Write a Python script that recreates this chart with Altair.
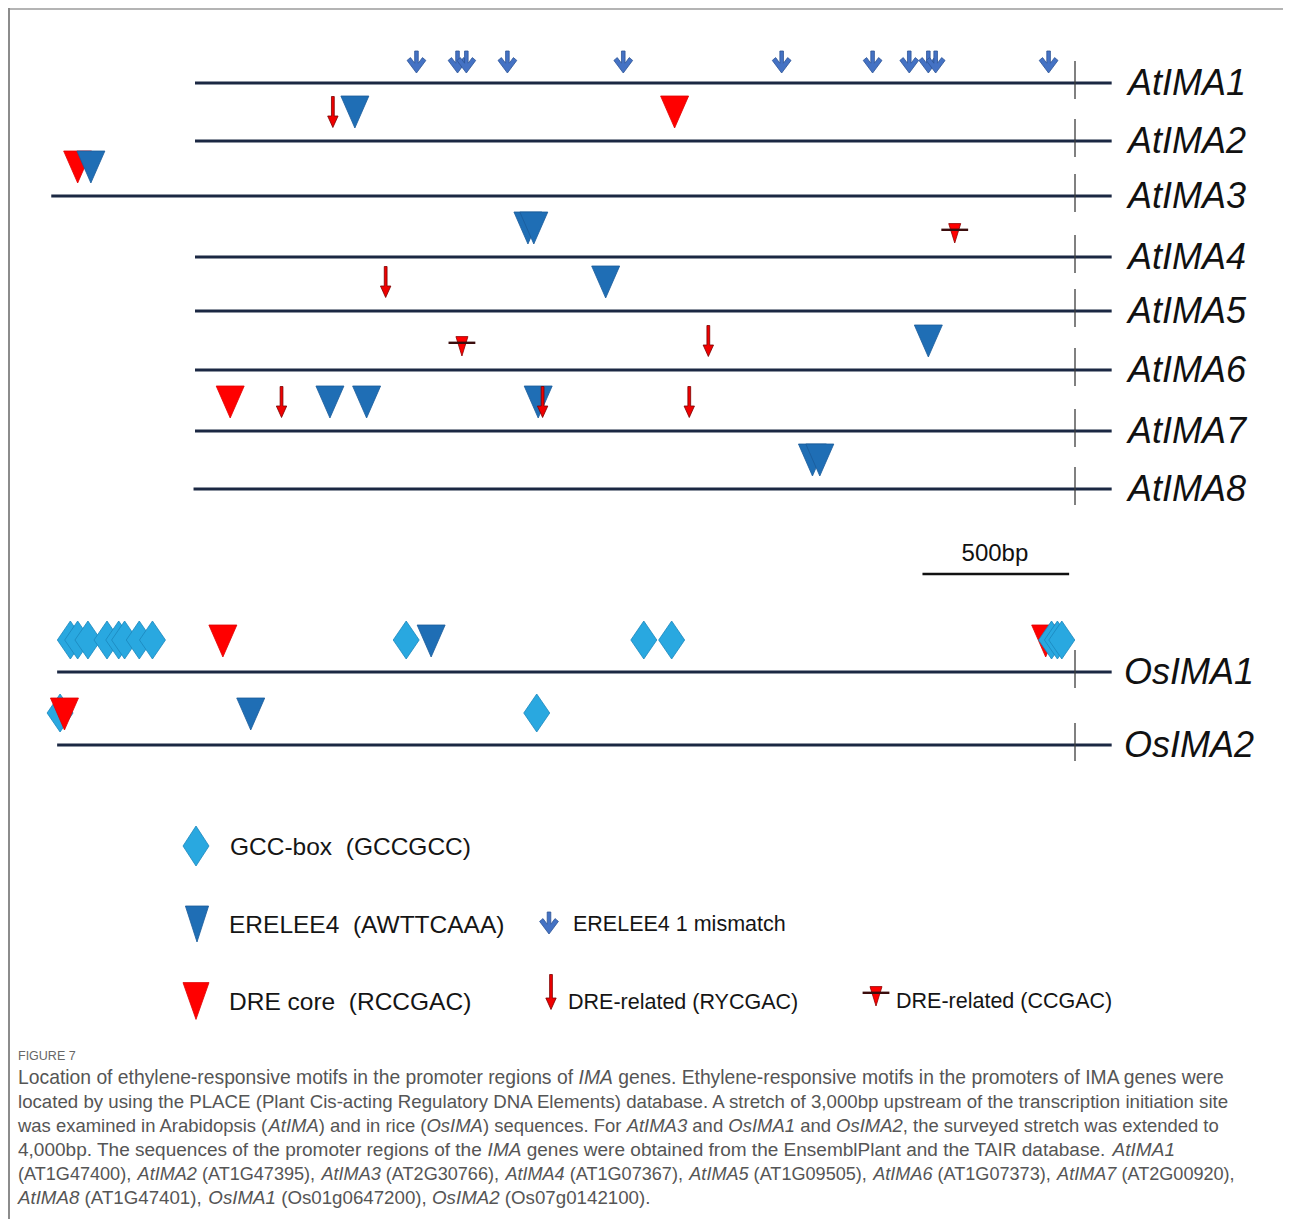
import altair as alt
import pandas as pd

# ---------------- data ----------------
GENES = ["AtIMA1", "AtIMA2", "AtIMA3", "AtIMA4", "AtIMA5", "AtIMA6", "AtIMA7", "AtIMA8", "OsIMA1", "OsIMA2"]
LINE_START_BP = [-3000, -3000, -3490, -3000, -3000, -3000, -3000, -3005, -3470, -3470]
LINE_END_BP = 125

# motif hits per promoter: (motif type, position in bp relative to TSS), drawn in this order
AtIMA1 = [("ERE1", -2245), ("ERE1", -2105), ("ERE1", -2075), ("ERE1", -1935), ("ERE1", -1540),
          ("ERE1", -1000), ("ERE1", -690), ("ERE1", -565), ("ERE1", -500), ("ERE1", -475), ("ERE1", -90)]
AtIMA2 = [("DRER", -2530), ("ERE", -2455), ("DRE", -1365)]
AtIMA3 = [("DRE", -3400), ("ERE", -3355)]
AtIMA4 = [("ERE", -1865), ("ERE", -1845), ("DREC", -410)]
AtIMA5 = [("DRER", -2350), ("ERE", -1600)]
AtIMA6 = [("DREC", -2090), ("DRER", -1250), ("ERE", -500)]
AtIMA7 = [("DRE", -2880), ("DRER", -2705), ("ERE", -2540), ("ERE", -2415), ("ERE", -1830),
          ("DRER", -1815), ("DRER", -1315)]
AtIMA8 = [("ERE", -895), ("ERE", -870)]
OsIMA1 = [("GCC", -3425), ("GCC", -3400), ("GCC", -3365), ("GCC", -3300), ("GCC", -3260),
          ("GCC", -3240), ("GCC", -3190), ("GCC", -3145), ("DRE", -2905), ("GCC", -2280),
          ("ERE", -2195), ("GCC", -1470), ("GCC", -1375), ("DRE", -100), ("GCC", -80),
          ("GCC", -60), ("GCC", -45)]
OsIMA2 = [("GCC", -3460), ("DRE", -3445), ("ERE", -2810), ("GCC", -1835)]
MOTIFS = [AtIMA1, AtIMA2, AtIMA3, AtIMA4, AtIMA5, AtIMA6, AtIMA7, AtIMA8, OsIMA1, OsIMA2]

MOTIF_TYPES = ["GCC", "ERE", "ERE1", "DRE", "DRER", "DREC"]
MOTIF_LABELS = ["GCC-box\u00a0 (GCCGCC)", "ERELEE4\u00a0 (AWTTCAAA)", "ERELEE4 1 mismatch",
                "DRE core\u00a0 (RCCGAC)", "DRE-related (RYCGAC)", "DRE-related (CCGAC)"]

SCALE_BAR_BP = 500
SCALE_BAR_LABEL = "500bp"

CAPTION_TITLE = "FIGURE 7"
CAPTION_LINES = [
    "Location of ethylene-responsive motifs in the promoter regions of *IMA* genes. Ethylene-responsive motifs in the promoters of IMA genes were",
    "located by using the PLACE (Plant Cis-acting Regulatory DNA Elements) database. A stretch of 3,000bp upstream of the transcription initiation site",
    "was examined in Arabidopsis (*AtIMA*) and in rice (*OsIMA*) sequences. For *AtIMA3* and *OsIMA1* and *OsIMA2*, the surveyed stretch was extended to",
    "4,000bp. The sequences of the promoter regions of the *IMA* genes were obtained from the EnsemblPlant and the TAIR database. *AtIMA1*",
    "(AT1G47400), *AtIMA2* (AT1G47395), *AtIMA3* (AT2G30766), *AtIMA4* (AT1G07367), *AtIMA5* (AT1G09505), *AtIMA6* (AT1G07373), *AtIMA7* (AT2G00920),",
    "*AtIMA8* (AT1G47401), *OsIMA1* (Os01g0647200), *OsIMA2* (Os07g0142100).",
]

# ---------------- layout & style ----------------
W, H = 1275, 1211
M = 8  # page margin: image px -> chart px
PX_PER_BP = 880 / 3000
TSS_X = 1075 - M
BP_LEFT = -TSS_X / PX_PER_BP
BP_RIGHT = BP_LEFT + W / PX_PER_BP
ROW_Y = [y - M for y in [83, 141, 196, 257, 311, 370, 431, 489, 672, 745]]
LABEL_X = [1128 - M] * 8 + [1124 - M] * 2
OFFSET = {"GCC": 32, "ERE": 29, "ERE1": 21, "DRE": 29, "DRER": 29, "DREC": 24}

FONT = "Liberation Sans"
LINE_COLOR = "#1b2843"
FILL = {"GCC": "#29a8e0", "ERE": "#1f6eb5", "ERE1": "#4472c4", "DRE": "#ff0000", "DRER": "#f00000", "DREC": "#ff0000"}
STROKE = {"GCC": "#1b86bd", "ERE": "#1a5c9a", "ERE1": "#2f5597", "DRE": "#e00000", "DRER": "#7a0000", "DREC": "#8b0000"}
SYM_SIZE = 1600  # 40px box; paths below in -1..1 units (1 unit = 20px)
PATH = {
    "GCC": "M0,-0.95L0.65,0L0,0.95L-0.65,0Z",
    "ERE": "M-0.7,-0.8L0.7,-0.8L0,0.8Z",
    "ERE1": "M-0.09,-0.55L0.09,-0.55L0.09,0.06L0.3,-0.22L0.47,-0.08L0,0.55L-0.47,-0.08L-0.3,-0.22L-0.09,0.06Z",
    "DRE": "M-0.7,-0.8L0.7,-0.8L0,0.8Z",
    "DRER": "M-0.07,-0.775L0.07,-0.775L0.07,0.2L0.26,0.2L0,0.775L-0.26,0.2L-0.07,0.2Z",
    "DREC": "M-0.3,-0.47L0.3,-0.47L0,0.5Z",
}
LEG_PATH = {
    "GCC": "M0,-1L0.65,0L0,1L-0.65,0Z",
    "ERE": "M-0.58,-0.9L0.58,-0.9L0,0.9Z",
    "ERE1": PATH["ERE1"],
    "DRE": "M-0.65,-0.92L0.65,-0.92L0,0.92Z",
    "DRER": "M-0.07,-0.875L0.07,-0.875L0.07,0.3L0.26,0.3L0,0.875L-0.26,0.3L-0.07,0.3Z",
    "DREC": PATH["DREC"],
}
BAR_PATH = "M-0.67,-0.22L0.67,-0.22L0.67,-0.1L-0.67,-0.1Z"
LEG_SYM = {"GCC": (196, 846), "ERE": (197, 924), "ERE1": (549, 923), "DRE": (196, 1001), "DRER": (551, 992), "DREC": (876, 996)}
LEG_TXT = {"GCC": (230, 855, 24.5), "ERE": (229, 933, 24.5), "ERE1": (573, 931, 21.5),
           "DRE": (229, 1010, 24.5), "DRER": (568, 1009, 21.5), "DREC": (896, 1008, 21.5)}
# right edge of each caption line in the reference (None: use the average size)
CAP_RIGHTS = [1225, 1232, 1219, 1175, 1236, None]

# ---------------- scales ----------------
def XB(f):
    return alt.X(f"{f}:Q", scale=alt.Scale(domain=[BP_LEFT, BP_RIGHT], nice=False, zero=False), axis=None)

def XP(f):
    return alt.X(f"{f}:Q", scale=alt.Scale(domain=[0, W], nice=False, zero=False), axis=None)

def Y(f):
    return alt.Y(f"{f}:Q", scale=alt.Scale(domain=[0, H], reverse=True, nice=False, zero=False), axis=None)

def Y2(f):
    return alt.Y2(f"{f}:Q")

# ---------------- tables ----------------
rows_df = pd.DataFrame({"gene": GENES, "start": LINE_START_BP, "end": LINE_END_BP, "y": ROW_Y,
                        "tss": 0, "t1": [y - 22 for y in ROW_Y], "t2": [y + 16 for y in ROW_Y],
                        "lx": LABEL_X, "ly": [y + 12 for y in ROW_Y]})

mot = []
for g, ry, hits in zip(GENES, ROW_Y, MOTIFS):
    for i, (t, bp) in enumerate(hits):
        off = OFFSET[t] + (2 if (g.startswith("Os") and t in ("ERE", "DRE")) else 0)
        mot.append({"order": len(mot), "gene": g, "type": t, "bp": bp, "y": ry - off})
mot_df = pd.DataFrame(mot)

leg_df = pd.DataFrame({
    "type": MOTIF_TYPES, "label": MOTIF_LABELS,
    "sx": [LEG_SYM[t][0] - M for t in MOTIF_TYPES], "sy": [LEG_SYM[t][1] - M for t in MOTIF_TYPES],
    "tx": [LEG_TXT[t][0] - M for t in MOTIF_TYPES], "ty": [LEG_TXT[t][1] - M for t in MOTIF_TYPES],
    "fs": [LEG_TXT[t][2] for t in MOTIF_TYPES],
})

bar_df = pd.DataFrame({"x0": [-SCALE_BAR_BP - 20], "x1": [-20], "y": [574 - M],
                       "lx": [-SCALE_BAR_BP / 2 - 23], "ly": [561 - M], "label": [SCALE_BAR_LABEL]})

# caption layout with Arial/Liberation Sans advance widths
AW = {}
for chars, w in [(" ,./:;fItI[]!", 278), ("ijl", 222), ("r()-", 333), ("cksvxyzJ", 500),
                 ("0123456789abdeghnopquL_?", 556), ("FTZ", 611), ("ABEKPSVXY&", 667),
                 ("CDHNRUw", 722), ("GOQ", 778), ("Mm", 833), ("W", 944)]:
    for c in chars:
        AW[c] = w

def tw(s, fs):
    return sum(AW.get(c, 556) for c in s) * fs / 1000.0

CAP_X0 = 18 - M
sizes = []
for line, r in zip(CAPTION_LINES, CAP_RIGHTS):
    sizes.append(None if r is None else (r - M - CAP_X0) / tw(line.replace("*", ""), 1.0))
avg_fs = sum(s for s in sizes if s) / len([s for s in sizes if s])
sizes = [s if s else avg_fs for s in sizes]

cap = []
for li, (line, fs) in enumerate(zip(CAPTION_LINES, sizes)):
    cx = CAP_X0
    for si, seg in enumerate(line.split("*")):
        if not seg:
            continue
        italic = si % 2 == 1
        lead = len(seg) - len(seg.lstrip(" "))
        txt = seg.strip(" ")
        if txt:
            cap.append({"x": cx + tw(" " * lead, fs), "y": 1084 - M + 24 * li, "t": txt, "it": italic, "fs": fs})
        cx += tw(seg, fs)
cap_df = pd.DataFrame(cap)
cap_norm = cap_df[~cap_df["it"]]
cap_ital = cap_df[cap_df["it"]]
title_df = pd.DataFrame({"x": [CAP_X0], "y": [1060 - M], "t": [CAPTION_TITLE]})

# ---------------- layers ----------------
frame_top = alt.Chart(title_df).mark_rule(color="#b4b4b4", strokeWidth=2).encode(
    x=alt.value(0), x2=alt.value(W), y=alt.value(1))
frame_left = alt.Chart(title_df).mark_rule(color="#8c8c8c", strokeWidth=2).encode(
    x=alt.value(1), y=alt.value(0), y2=alt.value(H))

lines = alt.Chart(rows_df).mark_rule(color=LINE_COLOR, strokeWidth=3).encode(
    x=XB("start"), x2=alt.X2("end:Q"), y=Y("y"))
ticks = alt.Chart(rows_df).mark_rule(color="#3c3c3c", strokeWidth=1.3).encode(
    x=XB("tss"), y=Y("t1"), y2=Y2("t2"))

points = alt.Chart(mot_df).mark_point(filled=True, size=SYM_SIZE, strokeWidth=0.8, opacity=1).encode(
    x=XB("bp"), y=Y("y"),
    shape=alt.Shape("type:N", scale=alt.Scale(domain=MOTIF_TYPES, range=[PATH[t] for t in MOTIF_TYPES]), legend=None),
    fill=alt.Fill("type:N", scale=alt.Scale(domain=MOTIF_TYPES, range=[FILL[t] for t in MOTIF_TYPES]), legend=None),
    stroke=alt.Stroke("type:N", scale=alt.Scale(domain=MOTIF_TYPES, range=[STROKE[t] for t in MOTIF_TYPES]), legend=None),
    order=alt.Order("order:Q"),
)
bars = alt.Chart(mot_df[mot_df["type"] == "DREC"]).mark_point(
    filled=True, size=SYM_SIZE, shape=BAR_PATH, color="#3b0d0d", opacity=1).encode(x=XB("bp"), y=Y("y"))

gene_labels = alt.Chart(rows_df).mark_text(
    font=FONT, fontSize=36, fontStyle="italic", align="left", baseline="alphabetic", color="#111111").encode(
    x=XP("lx"), y=Y("ly"), text="gene:N")

scale_bar = alt.Chart(bar_df).mark_rule(color="#111111", strokeWidth=2.5).encode(
    x=XB("x0"), x2=alt.X2("x1:Q"), y=Y("y"))
scale_text = alt.Chart(bar_df).mark_text(
    font=FONT, fontSize=24, align="center", baseline="alphabetic", color="#111111").encode(
    x=XB("lx"), y=Y("ly"), text="label:N")

leg_sym = alt.Chart(leg_df).mark_point(filled=True, size=SYM_SIZE, strokeWidth=0.8, opacity=1).encode(
    x=XP("sx"), y=Y("sy"),
    shape=alt.Shape("type:N", scale=alt.Scale(domain=MOTIF_TYPES, range=[LEG_PATH[t] for t in MOTIF_TYPES]), legend=None),
    fill=alt.Fill("type:N", scale=alt.Scale(domain=MOTIF_TYPES, range=[FILL[t] for t in MOTIF_TYPES]), legend=None),
    stroke=alt.Stroke("type:N", scale=alt.Scale(domain=MOTIF_TYPES, range=[STROKE[t] for t in MOTIF_TYPES]), legend=None),
)
leg_bar = alt.Chart(leg_df[leg_df["type"] == "DREC"]).mark_point(
    filled=True, size=SYM_SIZE, shape=BAR_PATH, color="#3b0d0d", opacity=1).encode(x=XP("sx"), y=Y("sy"))
leg_text = alt.Chart(leg_df).mark_text(
    font=FONT, align="left", baseline="alphabetic", color="#151515").encode(
    x=XP("tx"), y=Y("ty"), text="label:N", size=alt.Size("fs:Q", scale=None, legend=None))

cap_title = alt.Chart(title_df).mark_text(
    font=FONT, fontSize=12.5, align="left", baseline="alphabetic", color="#666666").encode(
    x=XP("x"), y=Y("y"), text="t:N")
cap_a = alt.Chart(cap_norm).mark_text(
    font=FONT, align="left", baseline="alphabetic", color="#555555").encode(
    x=XP("x"), y=Y("y"), text="t:N", size=alt.Size("fs:Q", scale=None, legend=None))
cap_b = alt.Chart(cap_ital).mark_text(
    font=FONT, fontStyle="italic", align="left", baseline="alphabetic", color="#555555").encode(
    x=XP("x"), y=Y("y"), text="t:N", size=alt.Size("fs:Q", scale=None, legend=None))

chart = alt.layer(
    frame_top, frame_left, lines, ticks, points, bars, gene_labels, scale_bar, scale_text,
    leg_sym, leg_bar, leg_text, cap_title, cap_a, cap_b,
).resolve_scale(
    x="independent", shape="independent", fill="independent", stroke="independent", size="independent"
).properties(
    width=W, height=H, padding=0, autosize=alt.AutoSizeParams(type="none"), background="white"
).configure_view(stroke=None)

chart.save("out.html", embed_options={"renderer": "svg", "actions": False})
